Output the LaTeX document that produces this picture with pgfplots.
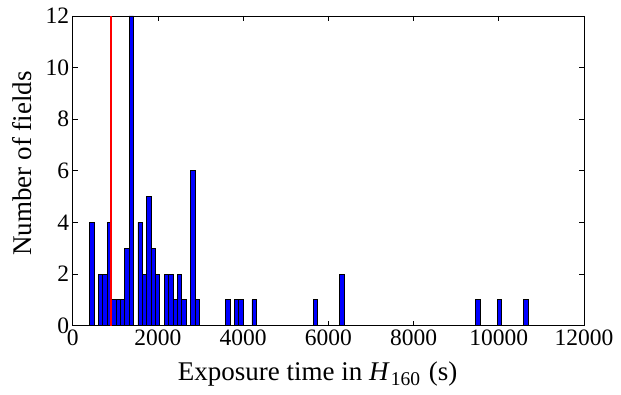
\documentclass[border=0pt]{standalone}
\usepackage{fontspec}
\setmainfont{Liberation Serif}
\usepackage{pgfplots}
\pgfplotsset{compat=1.18}
\begin{document}
\begin{tikzpicture}
\useasboundingbox (-72.7pt,-68.3pt) rectangle (548.3pt,325.7pt);
\begin{axis}[
  at={(0,0)}, anchor=south west,
  scale only axis, width=511.3pt, height=309.7pt,
  xmin=0, xmax=12000, ymin=0, ymax=12,
  xtick={0,2000,...,12000}, ytick={0,2,...,12},
  scaled x ticks=false,
  xticklabel style={/pgf/number format/1000 sep={}, yshift=-1pt},
  /pgf/number format/assume math mode=true,
  tick pos=both, tick align=inside, major tick length=5pt,
  axis line style={line width=0.9pt, black},
  every tick/.style={black, line width=0.8pt},
  tick label style={font=\fontsize{23.5}{27}\selectfont},
  label style={font=\fontsize{27}{31}\selectfont},
  xlabel={Exposure time in \textit{H}\hspace{1pt}\raisebox{-5pt}{\fontsize{19.5}{20}\selectfont 160}\hspace{2pt} (s)},
  ylabel={Number of fields},
  xlabel style={at={(axis description cs:0.479,0)}, anchor=base, yshift=-55pt},
  ylabel style={at={(axis description cs:-0.0982,0.524)}, anchor=center},
]
\addplot[ybar, bar width=102.9, bar shift=0pt, fill=blue, draw=black, line width=0.8pt] coordinates {
(451.5,4) (657.3,2) (760.2,2) (863.1,4) (966.0,1) (1068.9,1) (1171.8,1) (1274.7,3)
(1377.6,12) (1583.4,4) (1686.3,2) (1789.2,5) (1892.1,3) (1995.0,2) (2200.8,2) (2303.7,2)
(2406.6,1) (2509.5,2) (2612.4,1) (2818.2,6) (2921.1,1) (3641.4,1) (3847.2,1) (3950.1,1)
(4259.4,1) (5700.0,1) (6317.4,2) (9506.6,1) (10021.1,1) (10638.5,1)
};
\addplot[red, line width=2pt] coordinates {(890,0) (890,12)};
\end{axis}
\end{tikzpicture}
\end{document}
